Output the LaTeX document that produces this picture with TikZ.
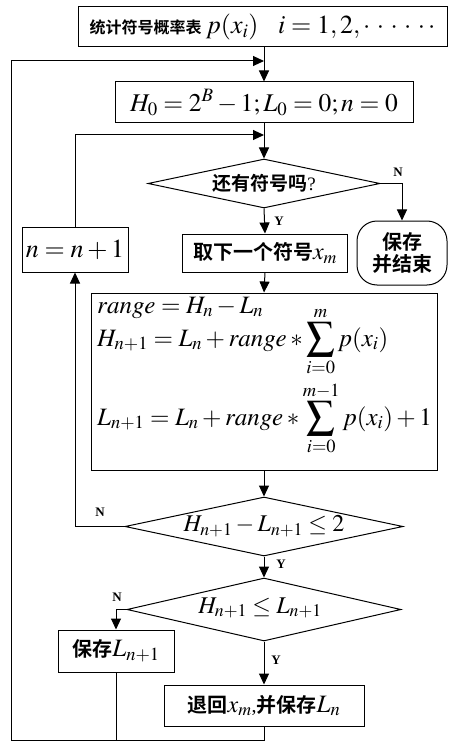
\documentclass[tikz,border=0pt]{standalone}
\usepackage{mathptmx}
\usepackage{graphicx}
\usepackage{fontspec}
\setmainfont{Liberation Serif}
\newfontfamily\cjk{Noto Sans CJK SC}[BoldFont={Noto Sans CJK SC Bold}]
\usetikzlibrary{arrows.meta,shapes.geometric}
\newcommand{\zh}[1]{{\cjk\bfseries #1}}
\newcommand{\fs}[1]{\fontsize{#1}{#1}\selectfont}
\newcommand{\bigsum}{\mathop{\vcenter{\hbox{\scalebox{1.12}{$\displaystyle\sum$}}}}\limits}
\tikzset{
  box/.style={draw, line width=1pt, inner sep=0pt, align=center},
  dia/.style={draw, line width=1pt, diamond, inner sep=0pt},
  arr/.style={line width=1pt, -{Triangle[length=11pt,width=10pt]}},
  ln/.style={line width=1pt},
  yn/.style={font=\bfseries\fs{13}, inner sep=0pt},
  txt/.style={inner sep=0pt},
}
\begin{document}
\begin{tikzpicture}[x=1pt,y=-1pt]
\useasboundingbox (0,0) rectangle (448,743);
% nodes
\node[box, minimum width=369, minimum height=40] (top) at (262.5,27)
  {\fs{26}{\fs{16}\zh{统计符号概率表}}\,$p(x_i)$\ \ \ $i=1,2,\cdot\,\cdot\,\cdot\,\cdot\,\cdot\,\cdot$};
\node[box, minimum width=298, minimum height=41] (h0) at (264,102.5)
  {\fs{25.5}$H_0=2^B-1;L_0=0;n=0$};
\node[dia, minimum width=232, minimum height=49] (d1) at (264,183.5) {};
\node[txt] (t1) at (264,183) {\fs{19}\zh{还有符号吗}?};
\node[box, minimum width=90, minimum height=64, rounded corners=20pt] (endb) at (402,253)
  {\fs{20}\zh{保存}\\[2pt]\fs{20}\zh{并结束}};
\node[box, minimum width=165, minimum height=38] (take) at (265,253)
  {\fs{20}\zh{取下一个符号}\fs{24}$x_m$};
\node[box, minimum width=106, minimum height=45] (inc) at (75,249.5)
  {\fs{26}$n=n+1$};
\node[box, minimum width=346, minimum height=177] (big) at (264,381.5) {};
\node[anchor=base west, txt] (r1) at (97,313)
  {\fs{25}$range=H_n-L_n$};
\node[anchor=base west, txt] (r2) at (97,346)
  {\fs{25}$H_{n+1}=L_n+range*\bigsum_{i=0}^{m}p(x_i)$};
\node[anchor=base west, txt] (r3) at (97,425)
  {\fs{25}$L_{n+1}=L_n+range*\bigsum_{i=0}^{m-1}p(x_i)+1$};
\node[dia, minimum width=278, minimum height=59] (d2) at (264,526.5) {};
\node[txt] (t2) at (264,526) {\fs{24}$H_{n+1}-L_{n+1}\le 2$};
\node[dia, minimum width=274, minimum height=63] (d3) at (264,609.5) {};
\node[txt] (t3) at (260,608) {\fs{24}$H_{n+1}\le L_{n+1}$};
\node[box, minimum width=116, minimum height=42] (savel) at (116,651)
  {\fs{20}\zh{保存}\fs{25}$L_{n+1}$};
\node[box, minimum width=200, minimum height=41] (back) at (264,705.5)
  {\fs{20}\zh{退回}\fs{24}$x_m$\fs{20},\zh{并保存}\fs{25}$L_n$};
% coordinates
\coordinate (j0) at (264,61);
\coordinate (j1) at (264,135);
\coordinate (bl) at (11,740);
\coordinate (lt) at (11,61);
% connectors
\draw[arr] (top.south -| h0.north) -- (h0.north);
\draw[arr] (h0.south) -- (d1.north);
\draw[arr] (d1.south) -- (take.north);
\draw[arr] (d1.east) -| (endb.north);
\draw[arr] (take.south) -- (big.north);
\draw[arr] (big.south) -- (d2.north);
\draw[arr] (d2.west) -| (inc.south);
\draw[arr] (inc.north) |- (j1);
\draw[arr] (d2.south) -- (d3.north);
\draw[arr] (d3.west) -| (savel.north);
\draw[arr] (d3.south) -- (back.north);
\draw[arr] (back.south) |- (bl) -- (lt) -- (j0);
\draw[ln] (savel.south) -- (savel.south |- bl);
% labels
\node[yn] (n1) at (398,172) {N};
\node[yn] (y1) at (279,221) {Y};
\node[yn] (n2) at (100,512) {N};
\node[yn] (y2) at (281,564) {Y};
\node[yn] (n3) at (117,597) {N};
\node[yn] (y3) at (276,660) {Y};
\end{tikzpicture}
\end{document}
